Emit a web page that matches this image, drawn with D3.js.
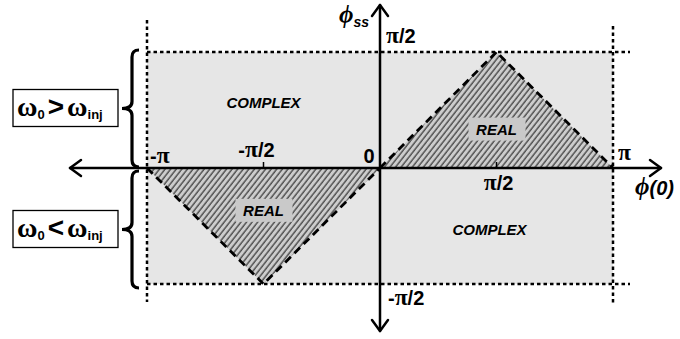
<!DOCTYPE html>
<html>
<head>
<meta charset="utf-8">
<script src="https://cdn.jsdelivr.net/npm/d3@7/dist/d3.min.js"></script>
<style>
  html, body { margin: 0; padding: 0; background: #fff; }
  svg { display: block; }
  text { font-family: "Liberation Sans", Arial, sans-serif; font-weight: bold; fill: #000; }
  .sym { font-family: "Liberation Serif", "Times New Roman", serif; font-weight: bold; }
</style>
</head>
<body>
<svg id="chart" width="680" height="339"></svg>
<script>
const PI = Math.PI;

// Domain of the phase plane: phi(0) horizontally, phi_ss vertically
const phi0Domain = [-PI, PI];
const phiSsDomain = [-PI / 2, PI / 2];

// Regions where the eigenvalues are real (triangles), as [phi(0), phi_ss] vertices
const realRegions = [
  [[0, 0], [PI / 2, PI / 2], [PI, 0]],
  [[-PI, 0], [-PI / 2, -PI / 2], [0, 0]]
];

// Region captions, anchored in data units
const regionLabels = [
  { text: "COMPLEX", phi0: -PI / 2, phiSs: 0.88, boxed: false },
  { text: "COMPLEX", phi0: PI * 0.47, phiSs: -0.84, boxed: false },
  { text: "REAL", phi0: PI / 2, phiSs: 0.52, boxed: true },
  { text: "REAL", phi0: -PI / 2, phiSs: -0.58, boxed: true }
];

// Tick labels on the horizontal axis
const xTickValues = [-PI, -PI / 2, 0, PI / 2, PI];
const xTickLabels = ["-π", "-π/2", "0", "π/2", "π"];
// Tick labels on the vertical axis
const yTickValues = [PI / 2, -PI / 2];
const yTickLabels = ["π/2", "-π/2"];

// Frequency regimes shown on the left
const regimes = [
  { rel: ">", from: 0, to: PI / 2 },
  { rel: "<", from: -PI / 2, to: 0 }
];

const svg = d3.select("#chart");

const x = d3.scaleLinear().domain(phi0Domain).range([147, 613]);
const y = d3.scaleLinear().domain(phiSsDomain).range([284, 52]);
const x0 = x(0), y0 = y(0);

// Hatch pattern for the real regions
const defs = svg.append("defs");
const pat = defs.append("pattern")
  .attr("id", "hatch")
  .attr("patternUnits", "userSpaceOnUse")
  .attr("width", 4.4).attr("height", 10)
  .attr("patternTransform", "rotate(38)");
pat.append("rect").attr("width", 4.4).attr("height", 10).attr("fill", "#cdcdcd");
pat.append("line").attr("x1", 1).attr("x2", 1).attr("y1", 0).attr("y2", 10)
  .attr("stroke", "#333").attr("stroke-width", 1.2);

// Shaded complex background
svg.append("rect")
  .attr("x", x(-PI)).attr("y", y(PI / 2))
  .attr("width", x(PI) - x(-PI)).attr("height", y(-PI / 2) - y(PI / 2))
  .attr("fill", "#e6e6e6");

// Real regions
const line = d3.line().x(d => x(d[0])).y(d => y(d[1]));
svg.selectAll("path.real").data(realRegions).join("path")
  .attr("class", "real")
  .attr("d", d => line(d) + "Z")
  .attr("fill", "url(#hatch)");
svg.selectAll("path.realEdge").data(realRegions).join("path")
  .attr("class", "realEdge")
  .attr("d", d => line(d))
  .attr("fill", "none").attr("stroke", "#000")
  .attr("stroke-width", 2.8).attr("stroke-dasharray", "8,5");

// Dotted boundaries at phi(0) = ±pi and phi_ss = ±pi/2
const dotted = { stroke: "#000", "stroke-width": 2.5, "stroke-dasharray": "3.5,3" };
function applyAttrs(sel, a) { Object.entries(a).forEach(([k, v]) => sel.attr(k, v)); return sel; }
applyAttrs(svg.append("line").attr("x1", x(-PI)).attr("x2", x(-PI)).attr("y1", 20).attr("y2", 302), dotted);
applyAttrs(svg.append("line").attr("x1", x(PI)).attr("x2", x(PI)).attr("y1", 26).attr("y2", 304), dotted);
applyAttrs(svg.append("line").attr("x1", x(-PI)).attr("x2", 630).attr("y1", y(PI / 2)).attr("y2", y(PI / 2)), dotted);
applyAttrs(svg.append("line").attr("x1", x(-PI)).attr("x2", 630).attr("y1", y(-PI / 2)).attr("y2", y(-PI / 2)), dotted);

// Axes with open arrowheads at both ends
const axisG = svg.append("g").attr("stroke", "#000").attr("stroke-width", 2.5).attr("fill", "none")
  .attr("stroke-linecap", "round").attr("stroke-linejoin", "round");
axisG.append("line").attr("x1", 70).attr("x2", 661).attr("y1", y0).attr("y2", y0);
axisG.append("line").attr("x1", x0).attr("x2", x0).attr("y1", 5).attr("y2", 331);
const ah = 11, aw = 8;
axisG.append("path").attr("d", `M${70 + ah},${y0 - aw}L70,${y0}L${70 + ah},${y0 + aw}`);
axisG.append("path").attr("d", `M${661 - ah},${y0 - aw}L661,${y0}L${661 - ah},${y0 + aw}`);
axisG.append("path").attr("d", `M${x0 - aw},${5 + ah}L${x0},5L${x0 + aw},${5 + ah}`);
axisG.append("path").attr("d", `M${x0 - aw},${331 - ah}L${x0},331L${x0 + aw},${331 - ah}`);

// Small tick marks at ±pi/2 on the horizontal axis
svg.selectAll("line.tick").data([-PI / 2, PI / 2]).join("line")
  .attr("class", "tick")
  .attr("x1", d => x(d)).attr("x2", d => x(d))
  .attr("y1", y0 - 6).attr("y2", y0)
  .attr("stroke", "#000").attr("stroke-width", 1.5);

// Writes a label where every π uses a serif face
function piText(g, str, size) {
  const t = g.append("text").attr("font-size", size);
  str.split(/(π)/).filter(s => s.length).forEach(s => {
    const ts = t.append("tspan").text(s);
    if (s === "π") ts.attr("class", "sym").attr("font-size", size * 1.18);
  });
  return t;
}

// Horizontal tick labels
const xLabelPos = [
  { dx: 3, dy: -5, anchor: "start" },
  { dx: -7, dy: -11, anchor: "middle" },
  { dx: -11, dy: -5, anchor: "middle" },
  { dx: 2, dy: 22, anchor: "middle" },
  { dx: 5, dy: -8, anchor: "start" }
];
xTickValues.forEach((v, i) => {
  const p = xLabelPos[i];
  piText(svg, xTickLabels[i], 20)
    .attr("x", x(v) + p.dx).attr("y", y0 + p.dy)
    .attr("text-anchor", p.anchor);
});

// Vertical tick labels
const yLabelPos = [{ dx: 6, dy: -9 }, { dx: 8, dy: 21 }];
yTickValues.forEach((v, i) => {
  piText(svg, yTickLabels[i], 20)
    .attr("x", x0 + yLabelPos[i].dx).attr("y", y(v) + yLabelPos[i].dy);
});

// Axis titles
const yTitle = svg.append("text").attr("x", 339).attr("y", 23).attr("font-size", 22);
yTitle.append("tspan").attr("class", "sym").attr("font-style", "italic").attr("font-size", 25).text("ϕ");
yTitle.append("tspan").attr("font-style", "italic").attr("font-size", 14).attr("dy", 4).text("ss");

const xTitle = svg.append("text").attr("x", 635).attr("y", 195).attr("font-size", 20).attr("font-style", "italic");
xTitle.append("tspan").attr("class", "sym").attr("font-size", 25).text("ϕ");
xTitle.append("tspan").text("(0)");

// Region captions
regionLabels.forEach(l => {
  const cx = x(l.phi0), cy = y(l.phiSs);
  if (l.boxed) {
    svg.append("rect")
      .attr("x", cx - 28).attr("y", cy - 12)
      .attr("width", 57).attr("height", 23)
      .attr("fill", "#c9c9c9");
  }
  svg.append("text")
    .attr("x", cx).attr("y", cy + 5)
    .attr("text-anchor", "middle")
    .attr("font-size", 15).attr("font-style", "italic")
    .text(l.text);
});

// Curly brace with its tip pointing left
function bracePath(sx, tx, ya, yb) {
  const ym = (ya + yb) / 2, r = 7;
  return `M${sx + r},${ya}Q${sx},${ya} ${sx},${ya + r}` +
    `L${sx},${ym - r}Q${sx},${ym} ${tx},${ym}` +
    `Q${sx},${ym} ${sx},${ym + r}` +
    `L${sx},${yb - r}Q${sx},${yb} ${sx + r},${yb}`;
}

regimes.forEach(r => {
  const ya = y(r.to) + (r.to > 0 ? -2 : 3);
  const yb = y(r.from) + (r.from < 0 ? 4 : -1);
  const ym = (ya + yb) / 2;
  svg.append("path")
    .attr("d", bracePath(132, 122, ya, yb))
    .attr("fill", "none").attr("stroke", "#000").attr("stroke-width", 3.2);

  svg.append("rect")
    .attr("x", 13).attr("y", ym - 19)
    .attr("width", 105).attr("height", 37)
    .attr("fill", "#fff").attr("stroke", "#000").attr("stroke-width", 1.3);

  const t = svg.append("text").attr("x", 17).attr("y", ym + 7).attr("font-size", 21);
  t.append("tspan").attr("class", "sym").attr("font-size", 28).text("ω");
  t.append("tspan").attr("font-size", 13).attr("dy", 3).text("0");
  t.append("tspan").attr("font-size", 28).attr("dy", -3).attr("dx", 3).text(r.rel);
  t.append("tspan").attr("class", "sym").attr("font-size", 28).attr("dx", 3).text("ω");
  t.append("tspan").attr("font-size", 13).attr("dy", 3).text("inj");
});
</script>
</body>
</html>
